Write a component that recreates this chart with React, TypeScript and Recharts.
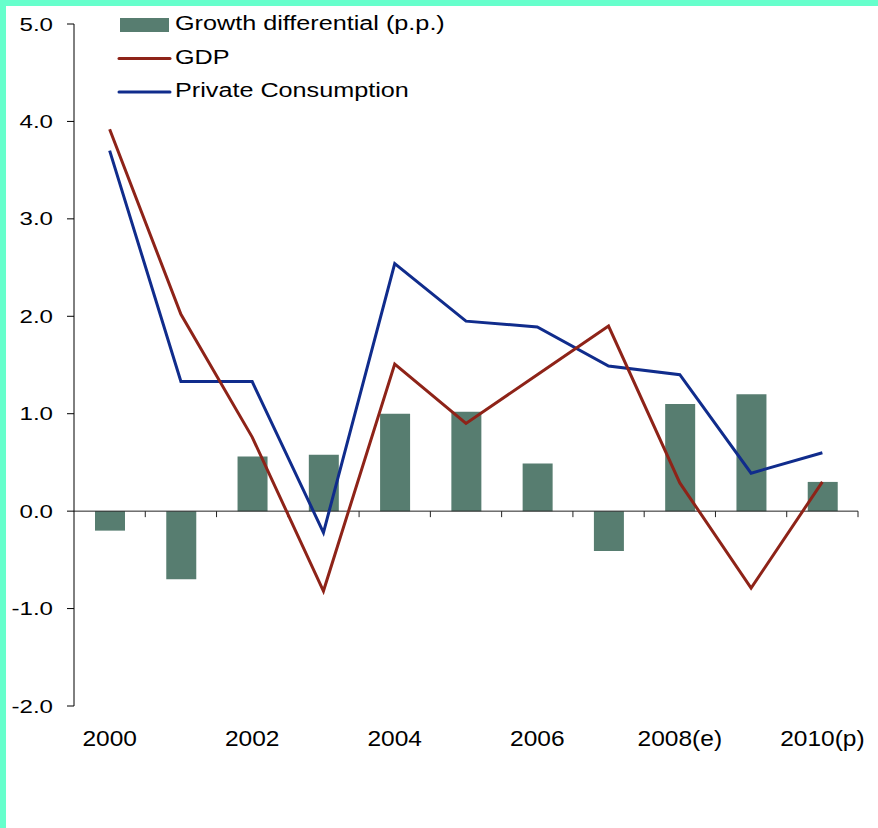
import React from "react";
import {
  ComposedChart, Bar, Line, XAxis, YAxis, ReferenceLine, Legend,
} from "recharts";

const years = [
  "2000", "2001", "2002", "2003", "2004", "2005",
  "2006", "2007", "2008(e)", "2009", "2010(p)",
];
const growthDiff = [-0.2, -0.7, 0.56, 0.58, 1.0, 1.02, 0.49, -0.41, 1.1, 1.2, 0.3];
const gdp = [3.92, 2.02, 0.76, -0.82, 1.51, 0.9, 1.4, 1.9, 0.29, -0.79, 0.3];
const privateConsumption = [3.7, 1.33, 1.33, -0.22, 2.54, 1.95, 1.89, 1.49, 1.4, 0.39, 0.6];
const yTicks = [-2, -1, 0, 1, 2, 3, 4, 5];

const legendItems = [
  { label: "Growth differential (p.p.)", kind: "bar", color: "#577D70" },
  { label: "GDP", kind: "line", color: "#8E2318" },
  { label: "Private Consumption", kind: "line", color: "#102C8C" },
];

const FONT = "Arial, 'Liberation Sans', sans-serif";

const data = years.map((year, i) => ({
  year,
  diff: growthDiff[i],
  gdp: gdp[i],
  pc: privateConsumption[i],
}));

const YTick = ({ x, y, payload }: any) => (
  <text
    transform={`translate(${x},${y}) scale(1.27,1)`}
    textAnchor="end"
    dominantBaseline="central"
    fontSize={19}
    fontFamily={FONT}
    fill="#000"
  >
    {Number(payload.value).toFixed(1)}
  </text>
);

const XTick = ({ x, y, payload }: any) => (
  <text
    transform={`translate(${x},${y + 40}) scale(1.14,1)`}
    textAnchor="middle"
    fontSize={21.5}
    fontFamily={FONT}
    fill="#000"
  >
    {payload.value}
  </text>
);

// zero line with tick marks on the category boundaries
const ZeroAxis = (props: any) => {
  const { x1, y1, x2 } = props;
  const step = (x2 - x1) / years.length;
  return (
    <g>
      <line x1={x1} y1={y1} x2={x2} y2={y1} stroke="#222" strokeWidth={1} />
      {years.map((_, i) => {
        const tx = x1 + step * (i + 1);
        return <line key={i} x1={tx} y1={y1} x2={tx} y2={y1 + 6} stroke="#222" strokeWidth={1} />;
      })}
    </g>
  );
};

const LegendContent = () => (
  <svg width={500} height={110}>
    {legendItems.map((item, i) => {
      const cy = 25 + i * 33.5;
      return (
        <g key={item.label}>
          {item.kind === "bar" ? (
            <rect x={120} y={cy - 7} width={49} height={14} fill={item.color} />
          ) : (
            <line x1={119} y1={cy} x2={170} y2={cy} stroke={item.color} strokeWidth={3} strokeLinecap="round" />
          )}
          <text
            transform={`translate(175,${cy + 5}) scale(1.2,1)`}
            fontSize={21}
            fontFamily={FONT}
            fill="#000"
          >
            {item.label}
          </text>
        </g>
      );
    })}
  </svg>
);

export default function App() {
  return (
    <div style={{ position: "absolute", left: 0, top: 0, width: 878, height: 828, background: "#fff" }}>
      <ComposedChart
        width={878}
        height={828}
        data={data}
        margin={{ top: 24, right: 20, bottom: 92, left: 0 }}
      >
        <XAxis
          dataKey="year"
          axisLine={false}
          tickLine={false}
          tickSize={0}
          tickMargin={0}
          interval={1}
          tick={<XTick />}
        />
        <YAxis
          domain={[-2, 5]}
          ticks={yTicks}
          width={74}
          tickSize={7}
          tickMargin={14}
          axisLine={{ stroke: "#000" }}
          tickLine={{ stroke: "#000" }}
          tick={<YTick />}
        />
        <Legend
          verticalAlign="middle"
          align="center"
          content={<LegendContent />}
          wrapperStyle={{ top: 0, left: 0, width: 500, height: 110 }}
        />
        <Bar dataKey="diff" fill="#577D70" barSize={30} isAnimationActive={false} />
        <ReferenceLine y={0} shape={<ZeroAxis />} />
        <Line type="linear" dataKey="pc" stroke="#102C8C" strokeWidth={3} dot={false} isAnimationActive={false} />
        <Line type="linear" dataKey="gdp" stroke="#8E2318" strokeWidth={3} dot={false} isAnimationActive={false} />
      </ComposedChart>
      <div style={{ position: "absolute", left: 0, top: 0, width: 878, height: 6, background: "#66FFCC" }} />
      <div style={{ position: "absolute", left: 0, top: 0, width: 6, height: 828, background: "#66FFCC" }} />
    </div>
  );
}
